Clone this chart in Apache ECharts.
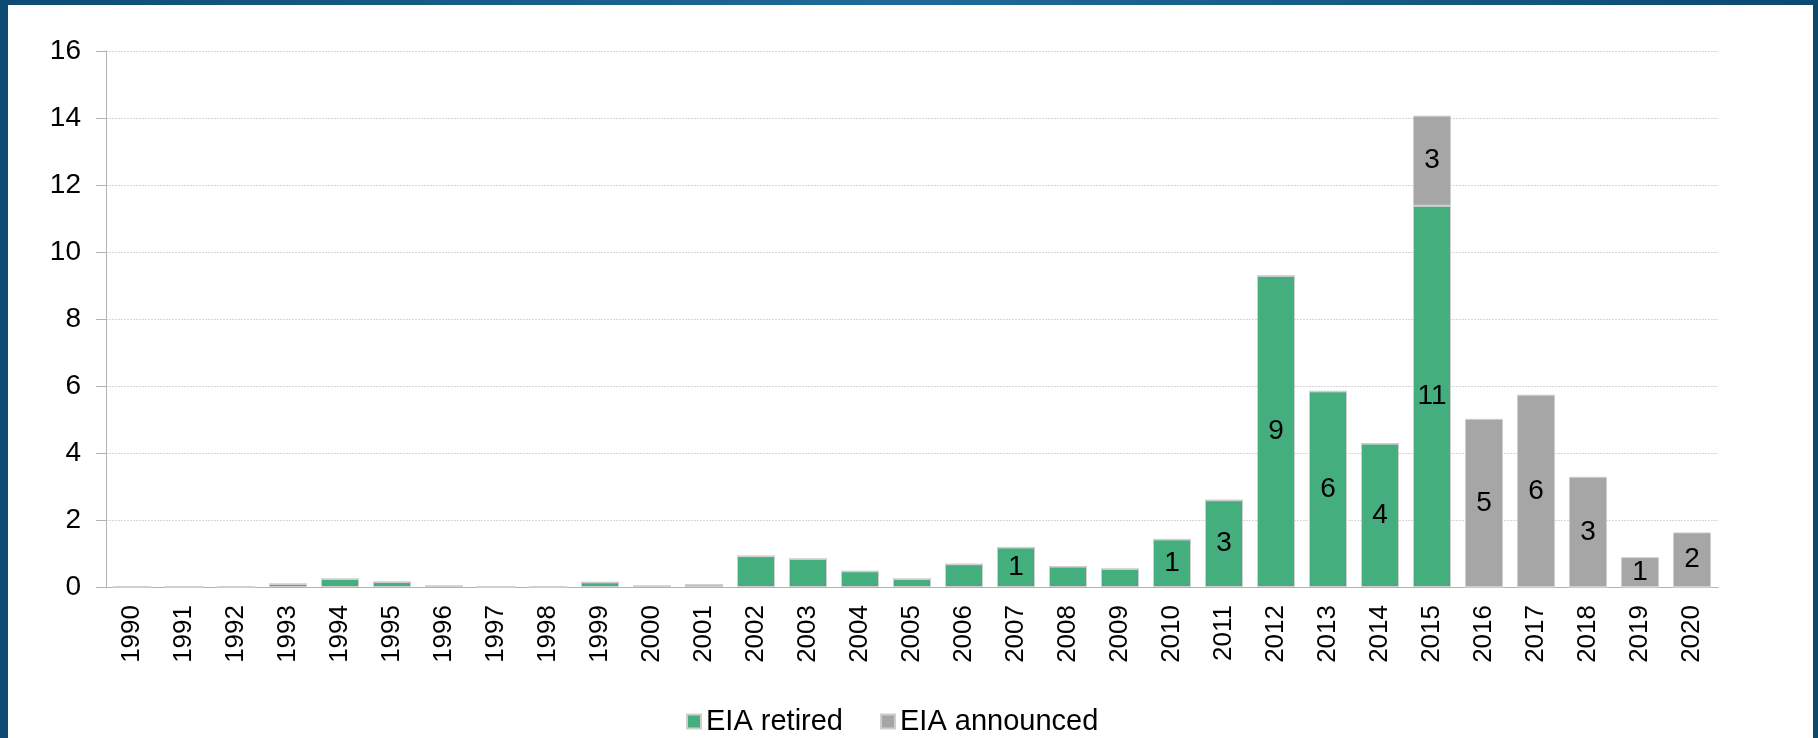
<!DOCTYPE html>
<html>
<head>
<meta charset="utf-8">
<script src="https://cdn.jsdelivr.net/npm/echarts@6/dist/echarts.min.js"></script>
<style>
  html, body { margin: 0; padding: 0; }
  body {
    width: 1818px; height: 738px; overflow: hidden; position: relative;
    background: linear-gradient(to right, #0e4b74 0%, #1f6b98 50%, #0d4870 100%);
  }
  #chart { position: absolute; left: 8px; top: 5px; width: 1805px; height: 733px; background: #fff; }
</style>
</head>
<body>
<div id="chart"></div>
<script>
// years on the x axis
const years = ['1990', '1991', '1992', '1993', '1994', '1995', '1996', '1997', '1998', '1999',
  '2000', '2001', '2002', '2003', '2004', '2005', '2006', '2007', '2008', '2009',
  '2010', '2011', '2012', '2013', '2014', '2015', '2016', '2017', '2018', '2019', '2020'];

// bar heights
const retired = [0, 0, 0, 0.09, 0.24, 0.15, 0.03, 0, 0, 0.14,
  0.03, 0.07, 0.92, 0.84, 0.47, 0.24, 0.68, 1.18, 0.61, 0.54,
  1.42, 2.59, 9.29, 5.84, 4.28, 11.38, 0, 0, 0, 0, 0];
const announced = [0, 0, 0, 0, 0, 0, 0, 0, 0, 0,
  0, 0, 0, 0, 0, 0, 0, 0, 0, 0,
  0, 0, 0, 0, 0, 2.69, 5.02, 5.74, 3.29, 0.89, 1.63];

// numbers written inside the bars
const retiredCount = [null, null, null, null, null, null, null, null, null, null,
  null, null, null, null, null, null, null, 1, null, null,
  1, 3, 9, 6, 4, 11, null, null, null, null, null];
const announcedCount = [null, null, null, null, null, null, null, null, null, null,
  null, null, null, null, null, null, null, null, null, null,
  null, null, null, null, null, 3, 5, 6, 3, 1, 2];

const yTicks = { min: 0, max: 16, interval: 2 };

const FONT = "'Liberation Sans', Arial, sans-serif";

const chart = echarts.init(document.getElementById('chart'));

function countLabel(counts) {
  return {
    show: true,
    position: 'inside',
    color: '#000',
    fontSize: 28,
    fontFamily: FONT,
    formatter: p => (counts[p.dataIndex] == null ? '' : String(counts[p.dataIndex]))
  };
}

chart.setOption({
  backgroundColor: '#fff',
  animation: false,
  grid: { left: 98, right: 95, top: 46, bottom: 151 },
  legend: {
    left: 673,
    top: 697,
    itemWidth: 14,
    itemHeight: 14,
    itemGap: 37,
    icon: 'rect',
    textStyle: { fontSize: 29, fontFamily: FONT, color: '#000' },
    data: ['EIA retired', 'EIA announced']
  },
  xAxis: {
    type: 'category',
    data: years,
    axisLine: { lineStyle: { color: '#b3b3b3', width: 1 } },
    axisTick: { length: 9, lineStyle: { color: '#b3b3b3' } },
    axisLabel: { rotate: 90, margin: 18, fontSize: 26, fontFamily: FONT, color: '#000' }
  },
  yAxis: {
    type: 'value',
    min: yTicks.min,
    max: yTicks.max,
    interval: yTicks.interval,
    axisLine: { show: true, lineStyle: { color: '#b3b3b3' } },
    axisTick: { show: true, length: 10, lineStyle: { color: '#b3b3b3' } },
    axisLabel: { margin: 25, fontSize: 28, fontFamily: FONT, color: '#000' },
    splitLine: { lineStyle: { color: '#d6d6d6', type: [2, 1] } }
  },
  series: [
    {
      name: 'EIA retired',
      type: 'bar',
      stack: 'total',
      barWidth: 38,
      data: retired,
      itemStyle: { color: '#45ae7e', borderColor: '#cfcfcf', borderWidth: 1 },
      label: countLabel(retiredCount)
    },
    {
      name: 'EIA announced',
      type: 'bar',
      stack: 'total',
      barWidth: 38,
      data: announced,
      itemStyle: { color: '#a6a6a6', borderColor: '#cfcfcf', borderWidth: 1 },
      label: countLabel(announcedCount)
    }
  ]
});
</script>
</body>
</html>
